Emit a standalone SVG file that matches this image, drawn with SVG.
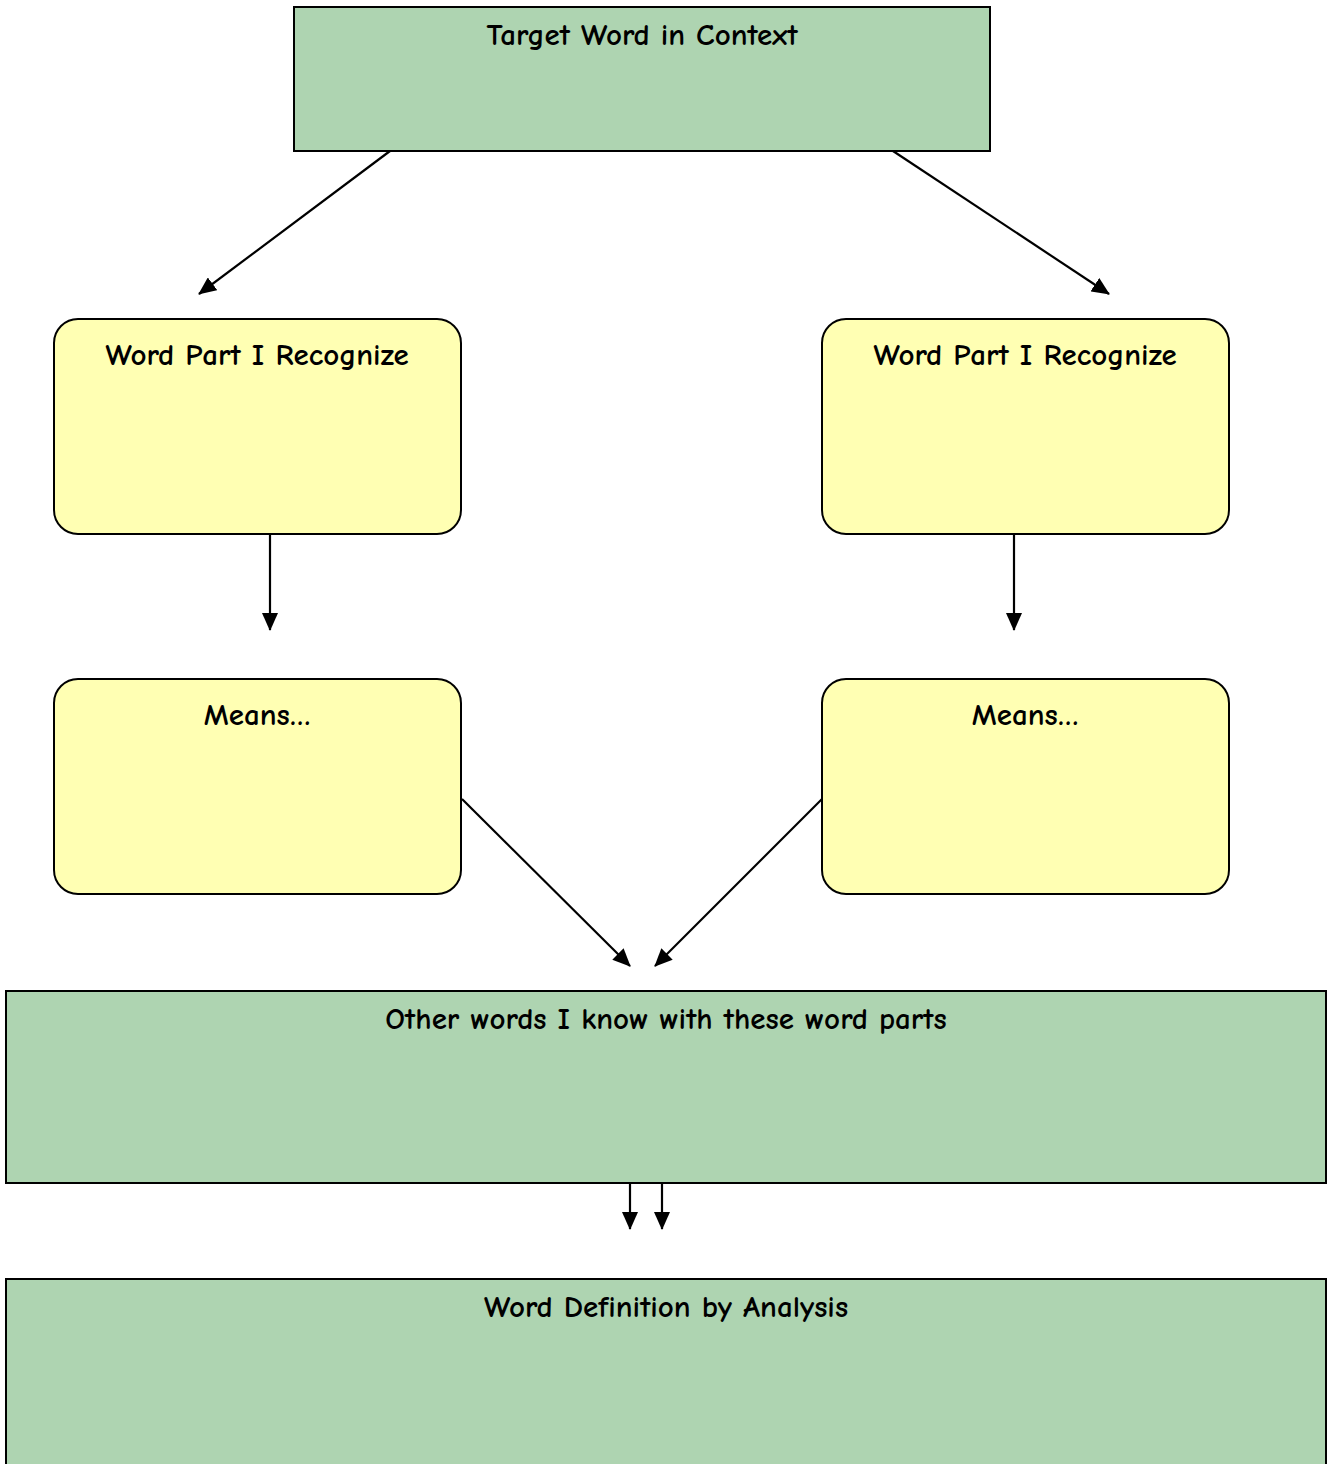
<svg xmlns="http://www.w3.org/2000/svg" width="1331" height="1464" viewBox="0 0 1331 1464">
<style>
.g{fill:#aed4b1;stroke:#000;stroke-width:2}
.y{fill:#ffffb3;stroke:#000;stroke-width:2}
.t{font-family:"Comic Neue","DejaVu Sans","Liberation Sans",sans-serif;font-size:31px;font-weight:bold;text-anchor:middle;fill:#000}
.c{stroke:#000;stroke-width:2.2;fill:none;marker-end:url(#a)}
</style>
<defs>
<marker id="a" markerUnits="userSpaceOnUse" markerWidth="18" markerHeight="16" refX="17" refY="8" orient="auto">
<path d="M0,0 L18,8 L0,16 Z" fill="#000"/>
</marker>
</defs>
<rect width="1331" height="1464" fill="#fff"/>
<g id="target"><rect class="g" x="294" y="7" width="696" height="144"/><text class="t" x="642" y="45">Target Word in Context</text></g>
<g id="part-left"><rect class="y" x="54" y="319" width="407" height="215" rx="24"/><text class="t" x="257" y="365">Word Part I Recognize</text></g>
<g id="part-right"><rect class="y" x="822" y="319" width="407" height="215" rx="24"/><text class="t" x="1025" y="365">Word Part I Recognize</text></g>
<g id="means-left"><rect class="y" x="54" y="679" width="407" height="215" rx="24"/><text class="t" x="257" y="725">Means…</text></g>
<g id="means-right"><rect class="y" x="822" y="679" width="407" height="215" rx="24"/><text class="t" x="1025" y="725">Means…</text></g>
<g id="other"><rect class="g" x="6" y="991" width="1320" height="192"/><text class="t" x="666" y="1029">Other words I know with these word parts</text></g>
<g id="definition"><rect class="g" x="6" y="1279" width="1320" height="200"/><text class="t" x="666" y="1317">Word Definition by Analysis</text></g>
<g id="connectors">
<line class="c" x1="390" y1="151" x2="199" y2="294"/>
<line class="c" x1="893" y1="151" x2="1109" y2="294"/>
<line class="c" x1="270" y1="535" x2="270" y2="630"/>
<line class="c" x1="1014" y1="535" x2="1014" y2="630"/>
<line class="c" x1="462" y1="799" x2="630" y2="966"/>
<line class="c" x1="822" y1="799" x2="655" y2="966"/>
<line class="c" x1="630" y1="1183" x2="630" y2="1229"/>
<line class="c" x1="662" y1="1183" x2="662" y2="1229"/>
</g>
</svg>
